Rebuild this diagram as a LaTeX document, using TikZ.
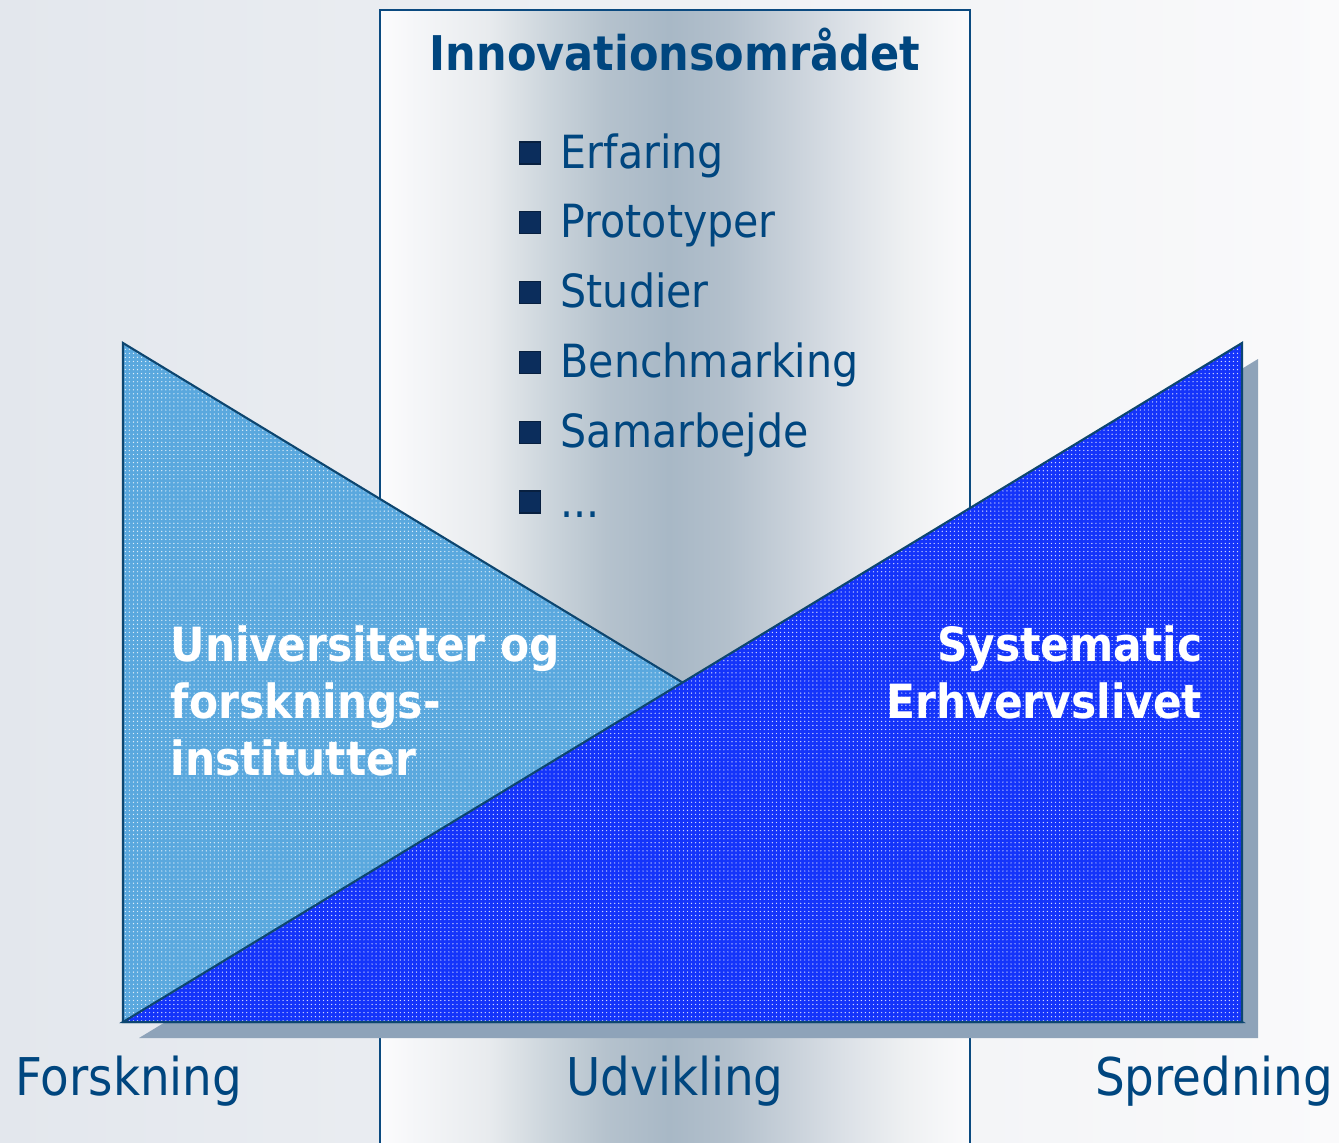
\documentclass[tikz,border=0pt]{standalone}
\usepackage{fontspec}
\usetikzlibrary{patterns.meta}
\setmainfont{DejaVu Sans Condensed}
\definecolor{bgL}{HTML}{E3E7ED}
\definecolor{bgR}{HTML}{FAFAFB}
\definecolor{frame}{HTML}{0B4A80}
\definecolor{txtblue}{HTML}{00467F}
\definecolor{lightb}{HTML}{5AA8DE}
\definecolor{deepb}{HTML}{1434FA}
\definecolor{edge}{HTML}{0D4670}
\definecolor{shadowc}{HTML}{8EA3B9}
\definecolor{bulc}{HTML}{0B2D5C}
\definecolor{cA}{HTML}{FCFCFD}
\definecolor{cB}{HTML}{F6F7F9}
\definecolor{cC}{HTML}{E8EBEE}
\definecolor{cD}{HTML}{CCD5DC}
\definecolor{cE}{HTML}{B5C2CD}
\definecolor{cF}{HTML}{A8B8C6}
\definecolor{cG}{HTML}{B3C0CC}
\definecolor{cH}{HTML}{C7D0D9}
\definecolor{cI}{HTML}{DCE1E7}
\definecolor{cJ}{HTML}{EEF0F2}
\definecolor{cK}{HTML}{FBFBFC}
\pgfdeclarehorizontalshading{centralshade}{100bp}{
  color(0bp)=(cA);
  color(25bp)=(cA);
  color(27.5bp)=(cB);
  color(34.2bp)=(cC);
  color(39.2bp)=(cD);
  color(44.2bp)=(cE);
  color(49.5bp)=(cF);
  color(54.5bp)=(cG);
  color(59.5bp)=(cH);
  color(64.5bp)=(cI);
  color(69.5bp)=(cJ);
  color(75bp)=(cK);
  color(100bp)=(cK)}
\begin{document}
\begin{tikzpicture}[x=0.01cm,y=-0.01cm,
  titlestyle/.style={text=txtblue, inner sep=0pt, font=\bfseries\fontsize{13.6pt}{16pt}\selectfont},
  itemstyle/.style={text=txtblue, inner sep=0pt, font=\fontsize{13pt}{15pt}\selectfont},
  bottomstyle/.style={text=txtblue, inner sep=0pt, font=\fontsize{14.8pt}{17pt}\selectfont},
  whitestyle/.style={text=white, inner sep=0pt, font=\bfseries\fontsize{13.4pt}{16pt}\selectfont},
  bulletbox/.style={fill=bulc, draw=bulc!70!black, line width=0.3pt, minimum width=0.21cm, minimum height=0.22cm, inner sep=0pt},
  edgeline/.style={draw=edge, line width=0.6pt, line join=miter},
  whitedots/.style={pattern={Dots[radius=0.2pt, distance=1.15pt]}, pattern color=white!80!#1}]
\useasboundingbox (0,0) rectangle (1339,1142);
\clip (0,0) rectangle (1339,1142);
% background
\shade[left color=bgL, right color=bgR] (0,0) rectangle (1339,1142);
% central area
\shade[shading=centralshade] (380,10) rectangle (970,1170);
\draw[frame, line width=0.6pt] (380,10) rectangle (970,1170);
% shadow of the right triangle
\fill[shadowc] (139,1038) -- (1258,359) -- (1258,1038) -- cycle;
% left triangle
\fill[lightb] (123,343) -- (123,1022) -- (1242,1022) -- cycle;
\fill[whitedots=lightb] (123,343) -- (123,1022) -- (1242,1022) -- cycle;
\draw[edgeline] (123,343) -- (123,1022) -- (1242,1022) -- cycle;
% right triangle
\fill[deepb] (123,1022) -- (1242,343) -- (1242,1022) -- cycle;
\fill[whitedots=deepb] (123,1022) -- (1242,343) -- (1242,1022) -- cycle;
\draw[edgeline] (123,1022) -- (1242,343) -- (1242,1022) -- cycle;
% title
\node[titlestyle, anchor=base] (title) at (675,70) {Innovationsområdet};
% bullet list
\node[bulletbox] (b1) at (530,153) {};
\node[itemstyle, anchor=base west] (it1) at (560,168) {Erfaring};
\node[bulletbox] (b2) at (530,222.8) {};
\node[itemstyle, anchor=base west] (it2) at (560,237.8) {Prototyper};
\node[bulletbox] (b3) at (530,292.6) {};
\node[itemstyle, anchor=base west] (it3) at (560,307.6) {Studier};
\node[bulletbox] (b4) at (530,362.4) {};
\node[itemstyle, anchor=base west] (it4) at (560,377.4) {Benchmarking};
\node[bulletbox] (b5) at (530,432.2) {};
\node[itemstyle, anchor=base west] (it5) at (560,447.2) {Samarbejde};
\node[bulletbox] (b6) at (530,502) {};
\node[itemstyle, anchor=base west] (it6) at (560,517) {...};
% white texts
\node[whitestyle, anchor=base west] (u1) at (170,661) {Universiteter og};
\node[whitestyle, anchor=base west] (u2) at (170,718) {forsknings-};
\node[whitestyle, anchor=base west] (u3) at (170,775) {institutter};
\node[whitestyle, anchor=base east] (s1) at (1203,661) {Systematic};
\node[whitestyle, anchor=base east] (s2) at (1203,718) {Erhvervslivet};
% bottom labels
\node[bottomstyle, anchor=base west] (forsk) at (15,1095) {Forskning};
\node[bottomstyle, anchor=base] (udv) at (675,1095) {Udvikling};
\node[bottomstyle, anchor=base east] (spred) at (1334,1095) {Spredning};
\end{tikzpicture}
\end{document}
